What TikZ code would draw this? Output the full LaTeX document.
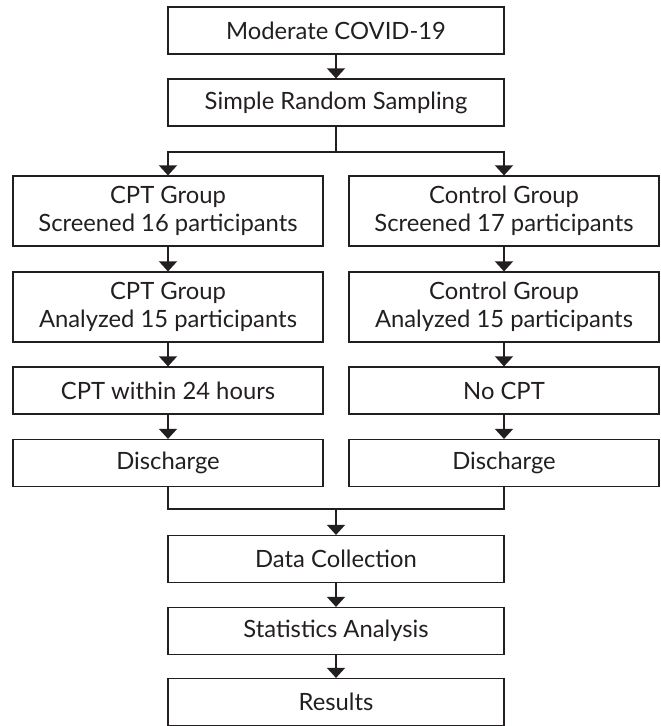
\documentclass[tikz,border=0pt]{standalone}
\usepackage{fontspec}
\setmainfont{Lato}
\usetikzlibrary{arrows.meta}
\definecolor{ink}{HTML}{231F20}
\begin{document}
\begin{tikzpicture}[x=1pt,y=-1pt,
  box/.style={draw=ink,line width=1.2pt,inner sep=0pt,align=center,text=ink,
    font=\fontsize{23.8}{28.5}\selectfont,minimum height=47pt},
  wide/.style={box,minimum width=336pt},
  half/.style={box,minimum width=310pt},
  tall/.style={minimum height=70pt},
  conn/.style={draw=ink,line width=1.2pt},
  arr/.style={conn,-{Triangle[width=18pt,length=10pt]}}]
\useasboundingbox (0,0) rectangle (661,726);
\node[wide] (b1) at (336,30.5) {Moderate COVID-19};
\node[wide] (b2) at (336,102.5) {Simple Random Sampling};
\node[half,tall] (la) at (168,211) {CPT Group\\Screened 16 participants};
\node[half,tall] (ra) at (504,211) {Control Group\\Screened 17 participants};
\node[half,tall] (lb) at (168,307) {CPT Group\\Analyzed 15 participants};
\node[half,tall] (rb) at (504,307) {Control Group\\Analyzed 15 participants};
\node[half] (lc) at (168,390.5) {CPT within 24 hours};
\node[half] (rc) at (504,390.5) {No CPT};
\node[half] (ld) at (168,463) {Discharge};
\node[half] (rd) at (504,463) {Discharge};
\node[wide] (dc) at (336,559) {Data Collection};
\node[wide] (sa) at (336,631) {Statistics Analysis};
\node[wide] (rs) at (336,702) {Results};
\coordinate (split) at (336,152);
\coordinate (merge) at (336,509);
\draw[arr] (b1) -- (b2);
\draw[conn] (b2) -- (split);
\draw[arr] (split) -| (la);
\draw[arr] (split) -| (ra);
\draw[arr] (la) -- (lb);
\draw[arr] (ra) -- (rb);
\draw[arr] (lb) -- (lc);
\draw[arr] (rb) -- (rc);
\draw[arr] (lc) -- (ld);
\draw[arr] (rc) -- (rd);
\draw[conn] (ld) |- (merge);
\draw[conn] (rd) |- (merge);
\draw[arr] (merge) -- (dc);
\draw[arr] (dc) -- (sa);
\draw[arr] (sa) -- (rs);
\end{tikzpicture}
\end{document}
